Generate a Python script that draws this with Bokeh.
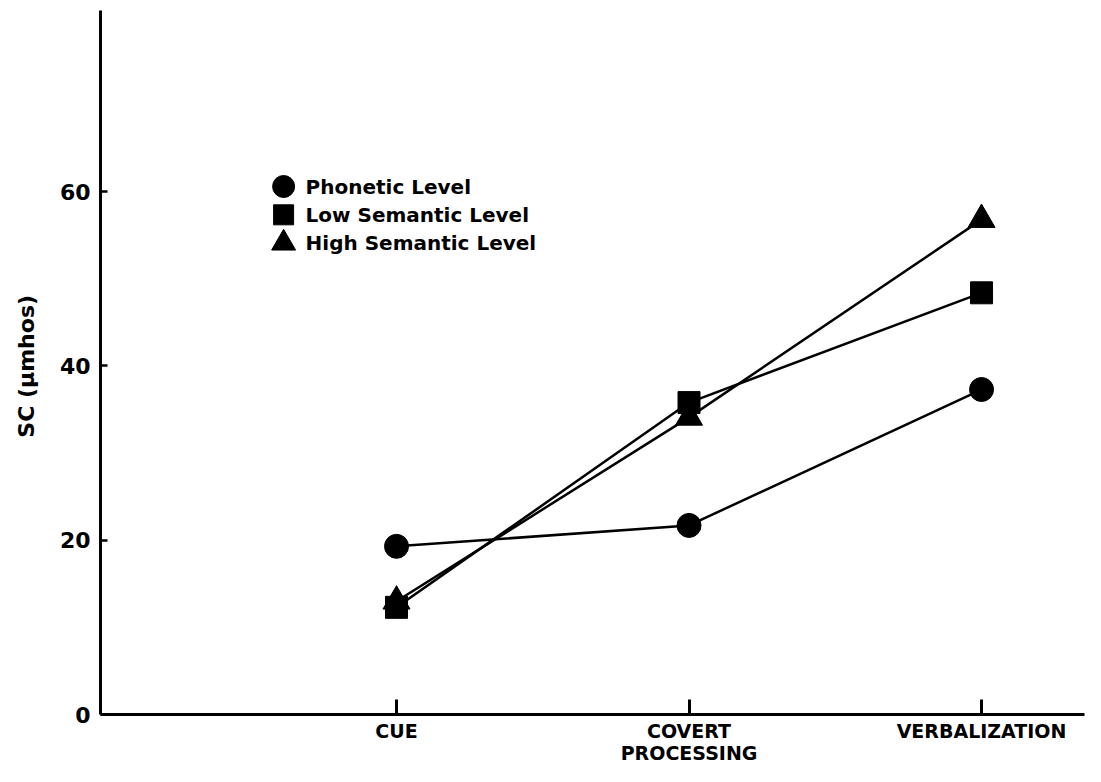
from bokeh.plotting import figure
from bokeh.models import FixedTicker
from bokeh.embed import file_html
from bokeh.resources import INLINE
from bokeh.core.properties import value

# ---- data ----
stages = ["CUE", "COVERT\nPROCESSING", "VERBALIZATION"]
series_names = ["Phonetic Level", "Low Semantic Level", "High Semantic Level"]
phonetic = [19.3, 21.7, 37.3]
low_semantic = [12.3, 35.8, 48.4]
high_semantic = [13.0, 34.1, 56.8]
y_ticks = [0, 20, 40, 60]

FONT = "DejaVu Sans"
x = list(range(1, len(stages) + 1))

p = figure(width=1085, height=766, output_backend="svg", toolbar_location=None,
           x_range=(-0.012, 3.352), y_range=(0, 80.8),
           min_border_left=100, min_border_right=1, min_border_top=10,
           min_border_bottom=40)
p.outline_line_color = None
p.grid.visible = False
p.background_fill_color = "white"
p.border_fill_color = "white"

series = [
    (phonetic, "circle", 24),
    (low_semantic, "square", 22),
    (high_semantic, "triangle", 27),
]
for vals, mk, sz in series:
    p.line(x, vals, line_color="black", line_width=2.5)
    p.scatter(x, vals, marker=mk, size=sz, fill_color="black", line_color="black")

# ---- axes ----
p.xaxis.ticker = FixedTicker(ticks=x)
p.xaxis.major_label_overrides = {i: s for i, s in zip(x, stages)}
p.xaxis.major_tick_in = 15
p.xaxis.major_tick_out = 0
p.xaxis.minor_tick_line_color = None
p.xaxis.axis_line_width = 3
p.xaxis.axis_line_color = "black"
p.xaxis.major_tick_line_width = 3
p.xaxis.major_label_text_font = FONT
p.xaxis.major_label_text_font_style = "bold"
p.xaxis.major_label_text_font_size = "19px"
p.xaxis.major_label_text_color = "black"
p.xaxis.major_label_text_line_height = 1.0
p.xaxis.major_label_standoff = 5

p.yaxis.ticker = FixedTicker(ticks=y_ticks)
p.yaxis.major_tick_in = 7
p.yaxis.major_tick_out = 0
p.yaxis.minor_tick_line_color = None
p.yaxis.axis_line_width = 3
p.yaxis.axis_line_color = "black"
p.yaxis.major_tick_line_width = 2.5
p.yaxis.major_label_text_font = FONT
p.yaxis.major_label_text_font_style = "bold"
p.yaxis.major_label_text_font_size = "22px"
p.yaxis.major_label_text_color = "black"
p.yaxis.major_label_standoff = 10
p.yaxis.axis_label = "SC  (\u03bcmhos)"
p.yaxis.axis_label_text_font = FONT
p.yaxis.axis_label_text_font_style = "bold"
p.yaxis.axis_label_text_font_size = "22px"
p.yaxis.axis_label_text_color = "black"
p.yaxis.axis_label_standoff = 18

# ---- legend (manual, to keep large markers) ----
leg_x, txt_x, leg_top, leg_gap = 0.614, 0.689, 60.6, 3.25
rows = [leg_top - i * leg_gap for i in range(len(series_names))]
p.scatter([leg_x] * 3, rows, marker=[s[1] for s in series], size=[22, 20, 24],
          fill_color="black", line_color="black")
p.text([txt_x] * 3, rows, text=series_names, text_font=value(FONT),
       text_font_style="bold", text_font_size="20px", text_baseline="middle",
       text_align="left", text_color="black")

open("out.html", "w").write(file_html(p, INLINE))
